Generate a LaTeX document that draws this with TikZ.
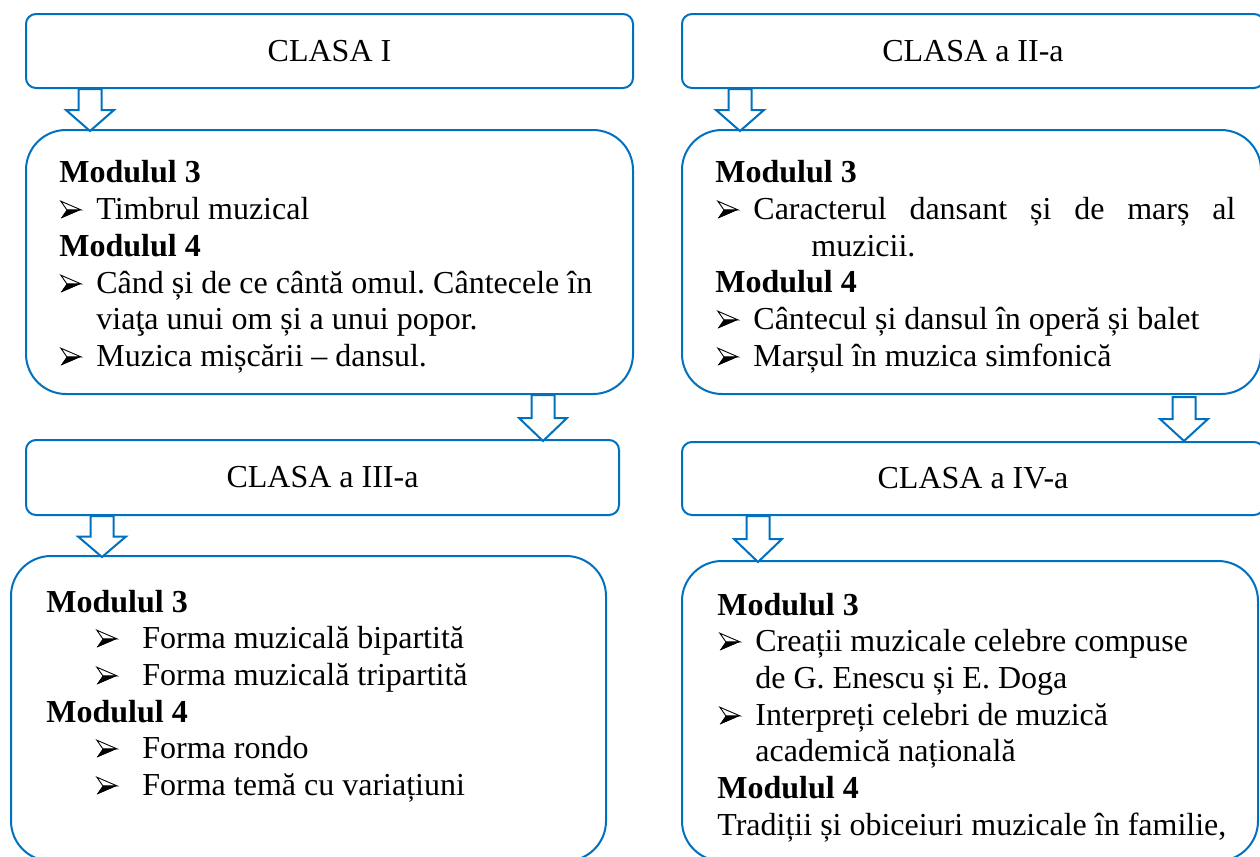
\documentclass[tikz,border=0pt]{standalone}
\usepackage{fontspec}
\setmainfont{Liberation Serif}
\frenchspacing
\definecolor{wblue}{HTML}{0070C0}
\newcommand\bul[1]{\makebox[#1][l]{\tikz[x=1pt,y=1pt,baseline=0pt]{\fill[black] (0,0.3) -- (10,4.6) -- (3,4.6) -- cycle; \draw[black,line width=0.45pt,fill=white,line join=miter] (0,8.9) -- (10,4.6) -- (3,4.6) -- cycle; \fill[black] (0,0.3) -- (10,4.6) -- (3,4.6) -- cycle;}}}
\begin{document}
\begin{tikzpicture}[x=0.5pt,y=-0.5pt,
  box/.style={draw=wblue, line width=1pt, rounded corners=5pt, inner sep=0pt, anchor=north west, font=\fontsize{16}{18.5}\selectfont},
  mbox/.style={draw=wblue, line width=1pt, rounded corners=20pt, inner sep=0pt, anchor=north west},
  ln/.style={anchor=base west, inner sep=0pt, font=\fontsize{16}{18.5}\selectfont},
  hd/.style={anchor=base west, inner sep=0pt, font=\fontsize{16}{18.5}\selectfont\bfseries},
  barrowline/.style={draw=wblue, line width=1pt, fill=white, line join=miter},
  pics/barrow/.style={code={\draw[barrowline] (-11.5,0) -- (-11.5,{#1/2}) -- (-24,{#1/2}) -- (0,#1) -- (24,{#1/2}) -- (11.5,{#1/2}) -- (11.5,0) -- cycle;}}
]
\useasboundingbox (0,0) rectangle (1260,857);
\clip (0,0) rectangle (1260,857);
% class boxes
\node[box, minimum width=303.5pt, minimum height=37pt] (c1) at (25,13) {};
\node (c1t) at (c1.center) {\fontsize{16}{18.5}\selectfont CLASA I};
\node[box, minimum width=291pt, minimum height=37pt] (c2) at (681,13) {};
\node (c2t) at (c2.center) {\fontsize{16}{18.5}\selectfont CLASA a II-a};
\node[box, minimum width=296.5pt, minimum height=37.5pt] (c3) at (25,439) {};
\node (c3t) at (c3.center) {\fontsize{16}{18.5}\selectfont CLASA a III-a};
\node[box, minimum width=291pt, minimum height=36.5pt] (c4) at (681,441) {};
\node (c4t) at (c4.center) {\fontsize{16}{18.5}\selectfont CLASA a IV-a};
% module boxes
\node[mbox, minimum width=303.5pt, minimum height=132pt] (m1) at (25,129) {};
\node[mbox, minimum width=289.5pt, minimum height=132pt] (m2) at (681,129) {};
\node[mbox, minimum width=297.5pt, minimum height=152.5pt] (m3) at (10,555) {};
\node[mbox, minimum width=288pt, minimum height=150pt] (m4) at (681,560) {};
% arrows
\pic at (c1.south -| 90,0) {barrow=42};
\pic at (c2.south -| 740,0) {barrow=42};
\pic at (m1.south -| 543,0) {barrow=46};
\pic at (1184,397) {barrow=44};
\pic at (c3.south -| 102,0) {barrow=41};
\pic at (c4.south -| 758,0) {barrow=46};
% module 1 text
\node[hd] (t1a) at (59,182) {Modulul 3};
\node[ln] (t1b) at (60,219) {\bul{18pt}Timbrul muzical};
\node[hd] (t1c) at (59,256) {Modulul 4};
\node[ln] (t1d) at (60,293) {\bul{18pt}Când și de ce cântă omul. Cântecele în};
\node[ln] (t1e) at (96,329) {viaţa unui om și a unui popor.};
\node[ln] (t1f) at (60,366) {\bul{18pt}Muzica mișcării – dansul.};
% module 2 text
\node[hd] (t2a) at (715,182) {Modulul 3};
\node[ln] (t2b) at (717,219) {\bul{18pt}\hbox to 241pt{Caracterul\hfill dansant\hfill și\hfill de\hfill marș\hfill al}};
\node[ln] (t2c) at (811,256) {muzicii.};
\node[hd] (t2d) at (715,292) {Modulul 4};
\node[ln] (t2e) at (717,329) {\bul{18pt}Cântecul și dansul în operă și balet};
\node[ln] (t2f) at (717,366) {\bul{18pt}Marșul în muzica simfonică};
% module 3 text
\node[hd] (t3a) at (46,612) {Modulul 3};
\node[ln] (t3b) at (96,648) {\bul{23pt}Forma muzicală bipartită};
\node[ln] (t3c) at (96,685) {\bul{23pt}Forma muzicală tripartită};
\node[hd] (t3d) at (46,722) {Modulul 4};
\node[ln] (t3e) at (96,758) {\bul{23pt}Forma rondo};
\node[ln] (t3f) at (96,795) {\bul{23pt}Forma temă cu variațiuni};
% module 4 text
\node[hd] (t4a) at (717,615) {Modulul 3};
\node[ln] (t4b) at (719,651) {\bul{18pt}Creații muzicale celebre compuse};
\node[ln] (t4c) at (755,688) {de G. Enescu și E. Doga};
\node[ln] (t4d) at (719,725) {\bul{18pt}Interpreți celebri de muzică};
\node[ln] (t4e) at (755,761) {academică națională};
\node[hd] (t4f) at (717,798) {Modulul 4};
\node[ln] (t4g) at (717,835) {Tradiții și obiceiuri muzicale în familie,};
\end{tikzpicture}
\end{document}
